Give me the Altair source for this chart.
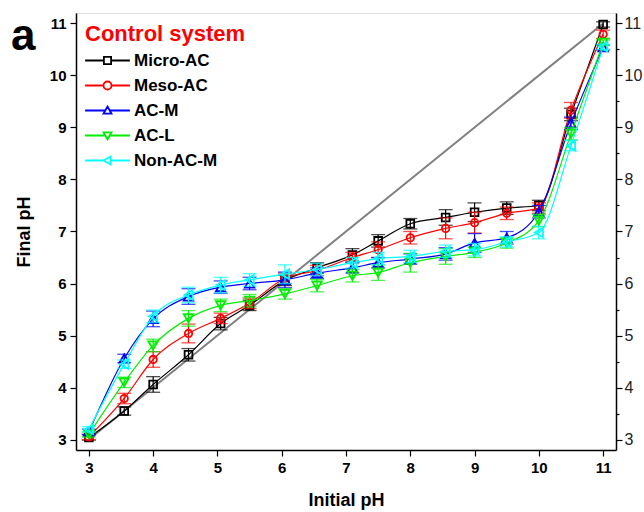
import altair as alt
import pandas as pd

# ---------------- data ----------------
INITIAL_PH = [3.0, 3.55, 4.0, 4.55, 5.05, 5.5, 6.05, 6.55, 7.1, 7.5, 8.0, 8.55, 9.0, 9.5, 10.0, 10.5, 11.0]

SERIES = ["Micro-AC", "Meso-AC", "AC-M", "AC-L", "Non-AC-M"]

MICRO_AC = [3.04, 3.55, 4.06, 4.63, 5.23, 5.58, 6.06, 6.30, 6.55, 6.82, 7.15, 7.27, 7.37, 7.45, 7.50, 9.25, 10.98]
MESO_AC = [3.05, 3.79, 4.54, 5.04, 5.33, 5.62, 6.10, 6.25, 6.50, 6.65, 6.88, 7.06, 7.17, 7.35, 7.45, 9.33, 10.79]
AC_M = [3.15, 4.56, 5.32, 5.75, 5.93, 6.00, 6.07, 6.20, 6.30, 6.40, 6.47, 6.57, 6.78, 6.88, 7.38, 9.08, 10.54]
AC_L = [3.10, 4.10, 4.81, 5.33, 5.58, 5.67, 5.80, 5.96, 6.15, 6.21, 6.40, 6.52, 6.60, 6.78, 7.21, 8.88, 10.63]
NON_AC_M = [3.20, 4.45, 5.37, 5.78, 5.97, 6.07, 6.18, 6.27, 6.40, 6.48, 6.52, 6.62, 6.65, 6.80, 6.98, 8.65, 10.55]

MICRO_AC_ERR = [0.05, 0.08, 0.15, 0.12, 0.12, 0.10, 0.10, 0.10, 0.12, 0.12, 0.10, 0.15, 0.18, 0.12, 0.10, 0.12, 0.05]
MESO_AC_ERR = [0.05, 0.10, 0.15, 0.18, 0.10, 0.10, 0.10, 0.10, 0.10, 0.15, 0.12, 0.20, 0.20, 0.12, 0.10, 0.15, 0.08]
AC_M_ERR = [0.05, 0.08, 0.15, 0.15, 0.12, 0.12, 0.15, 0.10, 0.10, 0.10, 0.10, 0.12, 0.18, 0.12, 0.12, 0.12, 0.05]
AC_L_ERR = [0.05, 0.10, 0.12, 0.15, 0.12, 0.12, 0.10, 0.12, 0.12, 0.15, 0.18, 0.15, 0.10, 0.10, 0.12, 0.12, 0.05]
NON_AC_M_ERR = [0.05, 0.08, 0.12, 0.15, 0.15, 0.12, 0.18, 0.12, 0.10, 0.12, 0.12, 0.12, 0.12, 0.10, 0.12, 0.10, 0.05]

DIAG_X = [3, 11]
DIAG_Y = [3, 11]

COLORS = ["#000000", "#FF0000", "#0000FF", "#00EE00", "#00FFFF"]
SHAPES = ["square", "circle", "triangle-up", "triangle-down", "triangle-left"]
SIZES = [60, 55, 90, 90, 90]

# legend symbols: marker with line through it (unit coordinates)
LEGEND_PATHS = [
    "M-5.6,0H-0.9M0.9,0H5.6M-0.9,-0.9H0.9V0.9H-0.9Z",
    "M-5.6,0H-1M1,0H5.6M-1,0A1,1 0 1,0 1,0A1,1 0 1,0 -1,0Z",
    "M-5.6,0H-0.56M0.56,0H5.6M0,-1L1,0.8L-1,0.8Z",
    "M-5.6,0H-0.56M0.56,0H5.6M0,1L1,-0.8L-1,-0.8Z",
    "M-5.6,0H-1M0.8,0H5.6M-1,0L0.8,-1L0.8,1Z",
]

values = [MICRO_AC, MESO_AC, AC_M, AC_L, NON_AC_M]
errors = [MICRO_AC_ERR, MESO_AC_ERR, AC_M_ERR, AC_L_ERR, NON_AC_M_ERR]

rows = []
for s, ys, es in zip(SERIES, values, errors):
    for x, y, e in zip(INITIAL_PH, ys, es):
        rows.append({"series": s, "x": x, "y": y, "lo": y - e, "hi": y + e})
df = pd.DataFrame(rows)
diag = pd.DataFrame({"x": DIAG_X, "y": DIAG_Y})

FONT = "Liberation Sans"
DOMAIN = [2.8, 11.2]
HALF_TICKS = [3 + 0.5 * i for i in range(17)]
minor_tick = {"condition": {"test": "datum.value % 1 === 0", "value": 6}, "value": 3}
label_int = "datum.value % 1 === 0 ? '' + datum.value : ''"

xenc = alt.X(
    "x:Q",
    scale=alt.Scale(domain=DOMAIN, nice=False, zero=False),
    axis=alt.Axis(
        values=HALF_TICKS, labelExpr=label_int, tickSize=minor_tick,
        title="Initial pH", titleFont=FONT, titleFontSize=18, titleFontWeight="bold",
        titlePadding=16, labelFont=FONT, labelFontSize=15, labelFontWeight="bold",
        labelPadding=4, grid=False, domainColor="black", tickColor="black",
        labelColor="black", titleColor="black", tickWidth=1.2, domainWidth=1.5,
        labelFlush=False,
    ),
)
yscale = alt.Scale(domain=DOMAIN, nice=False, zero=False)
yaxis_left = alt.Axis(
    values=HALF_TICKS, labelExpr=label_int, tickSize=minor_tick,
    title="Final pH", titleFont=FONT, titleFontSize=18, titleFontWeight="bold",
    titlePadding=16, labelFont=FONT, labelFontSize=15, labelFontWeight="bold",
    labelPadding=4, grid=False, domainColor="black", tickColor="black",
    labelColor="black", titleColor="black", tickWidth=1.2, domainWidth=1.5,
    labelFlush=False,
)
yaxis_right = alt.Axis(
    orient="right", values=HALF_TICKS, labelExpr=label_int, tickSize=minor_tick,
    title=None, labelFont=FONT, labelFontSize=16, labelFontWeight="normal",
    labelPadding=2, grid=False, domainColor="black", tickColor="black",
    labelColor="#222222", tickWidth=1.2, domainWidth=1.5, labelFlush=False,
)

base = alt.Chart(df)
main_layers = []
for s, c, sh, sz in zip(SERIES, COLORS, SHAPES, SIZES):
    sub = base.transform_filter(alt.datum.series == s)
    line = sub.mark_line(interpolate="monotone", strokeWidth=1.2, color=c).encode(
        x=xenc, y=alt.Y("y:Q", scale=yscale, axis=yaxis_left)
    )
    err = sub.mark_rule(color=c, strokeWidth=1.2).encode(
        x="x:Q", y=alt.Y("lo:Q", scale=yscale), y2="hi:Q"
    )
    cap_lo = sub.mark_tick(color=c, thickness=1.3, size=14, orient="horizontal").encode(
        x="x:Q", y=alt.Y("lo:Q", scale=yscale)
    )
    cap_hi = sub.mark_tick(color=c, thickness=1.3, size=14, orient="horizontal").encode(
        x="x:Q", y=alt.Y("hi:Q", scale=yscale)
    )
    pts = sub.mark_point(filled=False, strokeWidth=1.8, color=c, shape=sh, size=sz, opacity=1).encode(
        x="x:Q", y=alt.Y("y:Q", scale=yscale)
    )
    main_layers += [line, err, cap_lo, cap_hi, pts]

legend_cfg = dict(
    title="Control system", orient="none", legendX=9, legendY=11,
    titleColor="#FF0000", titleFont=FONT, titleFontSize=22, titleFontWeight="bold",
    titlePadding=6, labelFont=FONT, labelFontSize=17, labelFontWeight="bold",
    labelColor="black", symbolSize=64, symbolStrokeWidth=1.8, symbolOffset=14,
    labelOffset=18, rowPadding=7, padding=0, symbolFillColor="transparent",
)

legend_layer = base.mark_point(filled=False, strokeWidth=1.8, clip=True, opacity=1).encode(
    x=alt.value(-500),
    y=alt.value(-500),
    color=alt.Color(
        "series:N",
        scale=alt.Scale(domain=SERIES, range=COLORS),
        legend=alt.Legend(**legend_cfg),
    ),
    shape=alt.Shape(
        "series:N",
        scale=alt.Scale(domain=SERIES, range=LEGEND_PATHS),
        legend=alt.Legend(**legend_cfg),
    ),
)

main = alt.layer(*main_layers, legend_layer)

diag_layer = alt.Chart(diag).mark_line(color="#808080", strokeWidth=2).encode(
    x=alt.X("x:Q", scale=alt.Scale(domain=DOMAIN, nice=False, zero=False)),
    y=alt.Y("y:Q", scale=alt.Scale(domain=DOMAIN, nice=False, zero=False), axis=yaxis_right),
)

chart = (
    alt.layer(diag_layer, main)
    .resolve_scale(y="independent")
    .properties(
        width=540,
        height=437,
        autosize=alt.AutoSizeParams(type="none"),
        padding={"left": 76, "top": 13, "right": 28, "bottom": 62},
        title=alt.TitleParams(
            text="a", anchor="start", frame="group", orient="none", font=FONT, fontSize=44,
            fontWeight="bold", color="black", dx=-65, dy=37, offset=0,
            baseline="alphabetic",
        ),
    )
    .configure_view(stroke="black", strokeWidth=1.5)
    .configure(background="white")
)

chart.save("out.html", embed_options={"renderer": "svg", "actions": False})
